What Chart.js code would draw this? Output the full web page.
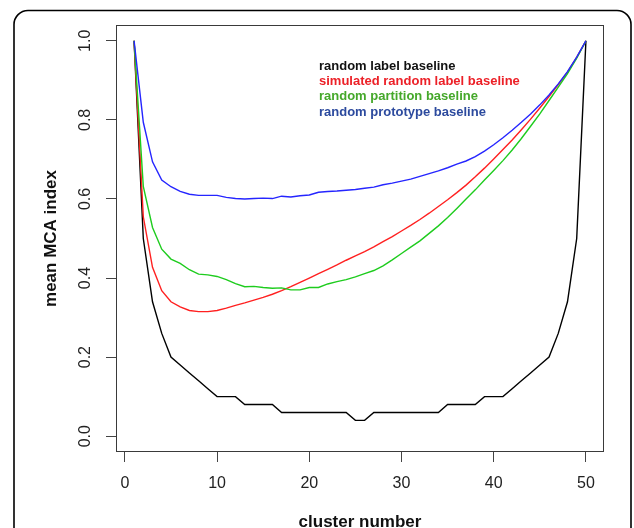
<!DOCTYPE html>
<html>
<head>
<meta charset="utf-8">
<script src="https://cdn.jsdelivr.net/npm/chart.js@4/dist/chart.umd.min.js"></script>
<style>
  html, body { margin: 0; padding: 0; background: #ffffff; }
  #wrap { width: 634px; height: 528px; position: relative; }
</style>
</head>
<body>
<div id="wrap"><canvas id="c" width="634" height="528"></canvas></div>
<script>
// ---- data ----
const clusters = [1,2,3,4,5,6,7,8,9,10,11,12,13,14,15,16,17,18,19,20,21,22,23,24,25,26,27,28,29,30,31,32,33,34,35,36,37,38,39,40,41,42,43,44,45,46,47,48,49,50];

const randomLabel = [1.0,0.50,0.34,0.26,0.20,0.18,0.16,0.14,0.12,0.10,0.10,0.10,0.08,0.08,0.08,0.08,0.06,0.06,0.06,0.06,0.06,0.06,0.06,0.06,0.04,0.04,0.06,0.06,0.06,0.06,0.06,0.06,0.06,0.06,0.08,0.08,0.08,0.08,0.10,0.10,0.10,0.12,0.14,0.16,0.18,0.20,0.26,0.34,0.50,1.0];

const simulatedRandomLabel = [1.0,0.555,0.427,0.368,0.340,0.327,0.318,0.315,0.315,0.318,0.324,0.331,0.337,0.344,0.351,0.359,0.368,0.378,0.389,0.400,0.411,0.422,0.433,0.445,0.456,0.467,0.479,0.492,0.505,0.519,0.533,0.548,0.564,0.581,0.598,0.616,0.635,0.656,0.678,0.701,0.725,0.749,0.775,0.802,0.830,0.859,0.889,0.921,0.958,1.0];

const randomPartition = [1.0,0.632,0.528,0.473,0.448,0.437,0.421,0.410,0.408,0.404,0.396,0.386,0.378,0.379,0.376,0.374,0.375,0.370,0.370,0.376,0.376,0.385,0.391,0.396,0.403,0.411,0.419,0.431,0.446,0.462,0.478,0.494,0.513,0.532,0.553,0.576,0.600,0.623,0.648,0.672,0.697,0.724,0.753,0.784,0.815,0.849,0.883,0.917,0.956,1.0];

const randomPrototype = [1.0,0.794,0.694,0.648,0.631,0.619,0.612,0.609,0.609,0.609,0.604,0.601,0.600,0.601,0.602,0.601,0.607,0.605,0.608,0.610,0.617,0.619,0.620,0.622,0.624,0.627,0.630,0.636,0.640,0.645,0.650,0.657,0.664,0.671,0.679,0.688,0.696,0.707,0.721,0.737,0.755,0.774,0.794,0.815,0.838,0.863,0.891,0.922,0.959,1.0];

const seriesNames = ["random label baseline","simulated random label baseline","random partition baseline","random prototype baseline"];
const xTicks = [0,10,20,30,40,50];
const yTicks = [0.0,0.2,0.4,0.6,0.8,1.0];
const xTitle = "cluster number";
const yTitle = "mean MCA index";

// ---- styling ----
const FONT = "'Liberation Sans', Arial, Helvetica, sans-serif";
const lineColors = ["#000000", "#ff2020", "#1ecc1e", "#2525ff"];
const legendColors = ["#111111", "#ec2027", "#45a82a", "#2c4a9e"];

function pts(vals) { return clusters.map((c, i) => ({ x: c, y: vals[i] })); }

const frame = {
  id: 'frame',
  beforeDraw(chart) {
    const ctx = chart.ctx;
    ctx.save();
    ctx.fillStyle = '#ffffff';
    ctx.fillRect(0, 0, chart.width, chart.height);
    // outer rounded panel
    ctx.strokeStyle = '#000000';
    ctx.lineWidth = 1.6;
    ctx.beginPath();
    if (ctx.roundRect) ctx.roundRect(14, 10.5, 617, 560, 14);
    else ctx.rect(14, 10.5, 617, 560);
    ctx.stroke();
    ctx.restore();
  },
  afterDraw(chart) {
    const ctx = chart.ctx;
    const a = chart.chartArea;
    ctx.save();
    ctx.strokeStyle = '#3a3a3a';
    ctx.lineWidth = 1;
    ctx.strokeRect(Math.round(a.left) + 0.5, Math.round(a.top) + 0.5,
                   Math.round(a.right - a.left) - 1, Math.round(a.bottom - a.top) - 1);
    // legend (text only, like R's legend with no symbols)
    ctx.font = "bold 13px " + FONT;
    ctx.textAlign = 'left';
    ctx.textBaseline = 'middle';
    chart.data.datasets.forEach((ds, i) => {
      ctx.fillStyle = legendColors[i];
      ctx.fillText(ds.label, 319, 66 + i * 15.4);
    });
    ctx.restore();
  }
};

new Chart(document.getElementById('c'), {
  type: 'line',
  data: {
    datasets: [
      { label: seriesNames[0], data: pts(randomLabel), borderColor: lineColors[0], order: 4 },
      { label: seriesNames[1], data: pts(simulatedRandomLabel), borderColor: lineColors[1], order: 3 },
      { label: seriesNames[2], data: pts(randomPartition), borderColor: lineColors[2], order: 2 },
      { label: seriesNames[3], data: pts(randomPrototype), borderColor: lineColors[3], order: 1 }
    ]
  },
  options: {
    responsive: false,
    animation: false,
    devicePixelRatio: 1,
    layout: { padding: { top: 25, right: 30, left: 0, bottom: 0 } },
    elements: {
      line: { borderWidth: 1.4, tension: 0, fill: false },
      point: { radius: 0, hoverRadius: 0 }
    },
    plugins: { legend: { display: false }, tooltip: { enabled: false } },
    scales: {
      x: {
        type: 'linear',
        min: -0.96, max: 51.96,
        afterBuildTicks(s) { s.ticks = xTicks.map(v => ({ value: v })); },
        afterFit(s) { s.height = 76; },
        grid: { drawOnChartArea: false, drawTicks: true, tickLength: 10, tickColor: '#444', tickWidth: 1 },
        border: { display: false },
        ticks: {
          autoSkip: false, maxRotation: 0, minRotation: 0, padding: 12,
          color: '#222', font: { family: FONT, size: 16 },
          callback: v => String(v)
        },
        title: {
          display: true, text: xTitle, color: '#111',
          font: { family: FONT, size: 17, weight: 'bold', lineHeight: 1 },
          padding: { top: 0, bottom: -3 }
        }
      },
      y: {
        type: 'linear',
        min: -0.04, max: 1.04,
        afterBuildTicks(s) { s.ticks = yTicks.map(v => ({ value: v })); },
        afterFit(s) { s.width = 116; },
        grid: { drawOnChartArea: false, drawTicks: true, tickLength: 10, tickColor: '#444', tickWidth: 1 },
        border: { display: false },
        ticks: {
          autoSkip: false, minRotation: 90, maxRotation: 90, crossAlign: 'center', padding: 9,
          color: '#222', font: { family: FONT, size: 16 },
          callback: v => Number(v).toFixed(1)
        },
        title: {
          display: true, text: yTitle, color: '#111',
          font: { family: FONT, size: 17, weight: 'bold', lineHeight: 1 },
          padding: { top: 43, bottom: 0 }
        }
      }
    }
  },
  plugins: [frame]
});
</script>
</body>
</html>
